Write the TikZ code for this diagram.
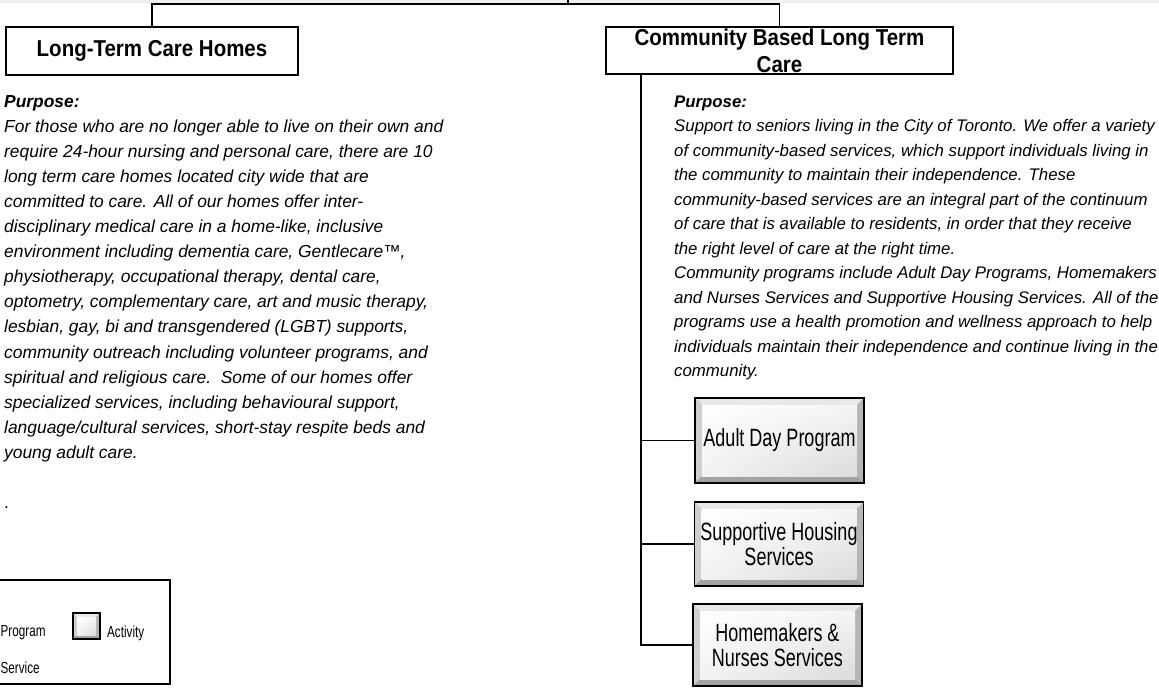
\documentclass[tikz,border=0pt]{standalone}
\usepackage{fontspec}
\setmainfont{Liberation Sans}
\newfontfamily\hdrfont[FakeStretch=0.89]{Liberation Sans}
\newfontfamily\actfont[FakeStretch=0.72]{Liberation Sans}
\newfontfamily\legfont[FakeStretch=0.73]{Liberation Sans}
\usetikzlibrary{calc,shadings}
\tikzset{
  conn/.style={draw=black, line width=1.6pt},
  hdrbox/.style={rectangle, draw=black, line width=1.8pt, inner sep=0pt, align=center,
    font=\hdrfont\bfseries\fontsize{23}{27}\selectfont},
  bodyline/.style={anchor=base west, inner sep=0pt, font=\fontsize{17.4}{25}\selectfont\itshape},
  bodyhead/.style={anchor=base west, inner sep=0pt, font=\fontsize{17.4}{25}\selectfont\bfseries\itshape},
  rbodyline/.style={anchor=base west, inner sep=0pt, font=\fontsize{16.8}{24.5}\selectfont\itshape},
  rbodyhead/.style={anchor=base west, inner sep=0pt, font=\fontsize{16.8}{24.5}\selectfont\bfseries\itshape},
  bevel/.style={path picture={
    \fill[gray!62] (path picture bounding box.south west) rectangle (path picture bounding box.north east);
    \fill[gray!18] (path picture bounding box.north west) -- (path picture bounding box.north east)
       -- ($(path picture bounding box.north east)+(-#1,-#1)$) -- ($(path picture bounding box.north west)+(#1,-#1)$) -- cycle;
    \fill[gray!38] (path picture bounding box.north west) -- (path picture bounding box.south west)
       -- ($(path picture bounding box.south west)+(#1,#1)$) -- ($(path picture bounding box.north west)+(#1,-#1)$) -- cycle;
    \fill[gray!58] (path picture bounding box.north east) -- (path picture bounding box.south east)
       -- ($(path picture bounding box.south east)+(-#1,#1)$) -- ($(path picture bounding box.north east)+(-#1,-#1)$) -- cycle;
    \fill[gray!72] (path picture bounding box.south west) -- (path picture bounding box.south east)
       -- ($(path picture bounding box.south east)+(-#1,#1)$) -- ($(path picture bounding box.south west)+(#1,#1)$) -- cycle;
    \shade[upper left=white, upper right=gray!8, lower left=gray!10, lower right=gray!28]
       ($(path picture bounding box.north west)+(#1,-#1)$) rectangle ($(path picture bounding box.south east)+(-#1,#1)$);
  }},
  actbox/.style={rectangle, draw=black, line width=1.6pt, inner sep=0pt, align=center,
    minimum width=169pt, bevel=7pt, font=\actfont\fontsize{25}{25}\selectfont},
  legicon/.style={rectangle, draw=black, line width=1.6pt, inner sep=0pt,
    minimum width=27pt, minimum height=26pt, bevel=4pt},
  legtext/.style={anchor=west, inner sep=0pt, font=\legfont\fontsize{16}{18}\selectfont},
  legbox/.style={rectangle, draw=black, line width=1.2pt, inner sep=0pt}
}
\begin{document}
\begin{tikzpicture}[x=1pt,y=-1pt]
\useasboundingbox (0,0) rectangle (1159,688);
\fill[gray!12] (0,0) rectangle (1159,2.5);

% headers
\node[hdrbox, minimum width=292pt, minimum height=48pt] (lt) at (152,51) {Long-Term Care Homes};
\node[hdrbox, minimum width=347pt, minimum height=47pt] (cb) at (779.5,50.5) {Community Based Long Term\\Care};

% top connectors
\coordinate (up) at (568,-6);
\coordinate (bar) at (568,4);
\draw[conn] (up) -- (bar);
\draw[conn] (lt.north) -- (lt.north |- bar) -- (cb.north |- bar) -- (cb.north);

% left text
\node[bodyhead] (lp) at (4,107) {Purpose:};
\foreach \t [count=\i] in {
  {For those who are no longer able to live on their own and},
  {require 24-hour nursing and personal care, there are 10},
  {long term care homes located city wide that are},
  {committed to care. All of our homes offer inter-},
  {disciplinary medical care in a home-like, inclusive},
  {environment including dementia care, Gentlecare™,},
  {physiotherapy, occupational therapy, dental care,},
  {optometry, complementary care, art and music therapy,},
  {lesbian, gay, bi and transgendered (LGBT) supports,},
  {community outreach including volunteer programs, and},
  {spiritual and religious care.\ \ Some of our homes offer},
  {specialized services, including behavioural support,},
  {language/cultural services, short-stay respite beds and},
  {young adult care.}}
  \node[bodyline] (ll\i) at (4,107+\i*25.1) {\t};
\node[bodyline, font=\fontsize{17.4}{25}\selectfont] (dot) at (4,508) {.};

% right text
\node[rbodyhead] (rp) at (674,107) {Purpose:};
\foreach \t [count=\i] in {
  {Support to seniors living in the City of Toronto. We offer a variety},
  {of community-based services, which support individuals living in},
  {the community to maintain their independence. These},
  {community-based services are an integral part of the continuum},
  {of care that is available to residents, in order that they receive},
  {the right level of care at the right time.},
  {Community programs include Adult Day Programs, Homemakers},
  {and Nurses Services and Supportive Housing Services. All of the},
  {programs use a health promotion and wellness approach to help},
  {individuals maintain their independence and continue living in the},
  {community.}}
  \node[rbodyline] (rl\i) at (674,107+\i*24.5) {\t};

% activity boxes
\node[actbox, minimum height=85pt] (adp) at (779.5,440.5) {Adult Day Program};
\node[actbox, minimum height=84pt] (shs) at (779,544) {Supportive Housing\\Services};
\node[actbox, minimum height=82pt] (hns) at (777.5,645) {Homemakers \&\\Nurses Services};

% spine and branches
\coordinate (spine) at (641,0);
\draw[conn] (spine |- cb.south) -- (spine |- hns.west) -- (hns.west);
\draw[conn] (spine |- adp.west) -- (adp.west);
\draw[conn] (spine |- shs.west) -- (shs.west);

% legend
\node[legbox, minimum width=174pt, minimum height=104pt] (leg) at (83,632) {};
\node[legicon] (legact) at (86.5,626) {};
\node[legtext] (legprog) at (0.5,633) {Program};
\node[legtext] (legactt) at (107,633) {Activity};
\node[legtext] (legserv) at (0.5,668) {Service};
\end{tikzpicture}
\end{document}
